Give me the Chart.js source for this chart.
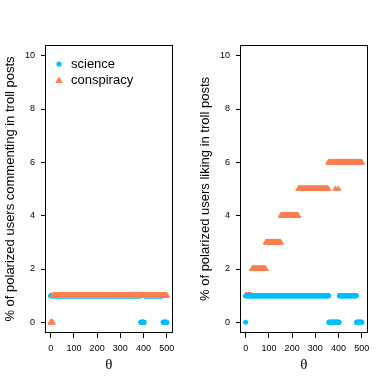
<!DOCTYPE html>
<html>
<head>
<meta charset="utf-8">
<script src="https://cdn.jsdelivr.net/npm/chart.js@4"></script>
<style>
html, body { margin: 0; padding: 0; background: #fff; }
#wrap { display: flex; width: 390px; height: 390px; }
.panel { width: 195px; height: 390px; }
</style>
</head>
<body>
<div id="wrap">
  <div class="panel"><canvas id="commentChart" width="195" height="390"></canvas></div>
  <div class="panel"><canvas id="likeChart" width="195" height="390"></canvas></div>
</div>
<script>
// theta runs from 0 to 500; each series is stored as runs: [first theta, value]
const thetaMax = 500;
const xTicks = [0, 100, 200, 300, 400, 500];
const yTicks = [0, 2, 4, 6, 8, 10];

const commentScience = [[0, 1], [388, 0], [403, 1], [484, 0]];
const commentConspiracy = [[0, 0], [9, 1]];
const likeScience = [[0, 0], [1, 1], [358, 0], [403, 1], [477, 0]];
const likeConspiracy = [[0, 1], [28, 2], [87, 3], [152, 4], [227, 5], [356, 6],
  [386, 5], [387, 6], [399, 5], [400, 6]];

const seriesNames = ['science', 'conspiracy'];
const blue = '#00BFFF';
const orange = '#FF7F50';
const font = 'Liberation Sans, Arial, sans-serif';

function expandRuns(runs) {
  const pts = [];
  for (let i = 0; i < runs.length; i++) {
    const end = i + 1 < runs.length ? runs[i + 1][0] - 1 : thetaMax;
    for (let t = runs[i][0]; t <= end; t++) pts.push({ x: t, y: runs[i][1] });
  }
  return pts;
}

const framePlugin = {
  id: 'frame',
  afterDraw(chart) {
    const a = chart.chartArea;
    const ctx = chart.ctx;
    ctx.save();
    ctx.strokeStyle = '#000';
    ctx.lineWidth = 1;
    ctx.strokeRect(Math.round(a.left) - 0.5, Math.round(a.top) + 0.5,
      Math.round(a.right - a.left) + 1, Math.round(a.bottom - a.top) - 1);
    ctx.restore();
  }
};

const legendPlugin = {
  id: 'rlegend',
  afterDraw(chart) {
    const ctx = chart.ctx;
    ctx.save();
    ctx.fillStyle = blue;
    ctx.beginPath();
    ctx.arc(59, 64, 2.6, 0, Math.PI * 2);
    ctx.fill();
    ctx.fillStyle = orange;
    ctx.beginPath();
    ctx.moveTo(59, 76.5);
    ctx.lineTo(62.8, 83);
    ctx.lineTo(55.2, 83);
    ctx.closePath();
    ctx.fill();
    ctx.fillStyle = '#000';
    ctx.font = '13px ' + font;
    ctx.textBaseline = 'middle';
    ctx.fillText(seriesNames[0], 71, 64);
    ctx.fillText(seriesNames[1], 71, 80);
    ctx.restore();
  }
};

function makeChart(id, sci, con, title, scienceOnTop, withLegend) {
  const ctx = document.getElementById(id).getContext('2d');
  return new Chart(ctx, {
    type: 'scatter',
    data: {
      datasets: [{
        label: seriesNames[0],
        data: expandRuns(sci),
        backgroundColor: blue,
        borderWidth: 0,
        pointRadius: 2.5,
        pointStyle: 'circle',
        order: scienceOnTop ? 0 : 1
      }, {
        label: seriesNames[1],
        data: expandRuns(con),
        backgroundColor: orange,
        borderWidth: 0,
        pointRadius: 3.7,
        pointStyle: 'triangle',
        order: scienceOnTop ? 1 : 0
      }]
    },
    options: {
      responsive: false,
      animation: false,
      events: [],
      layout: { padding: { top: 45, right: 23.5, bottom: 0, left: 0 } },
      plugins: { legend: { display: false }, tooltip: { enabled: false } },
      scales: {
        x: {
          type: 'linear',
          min: -20,
          max: 520,
          afterFit(scale) { scale.height = 57; },
          afterBuildTicks(scale) { scale.ticks = xTicks.map(v => ({ value: v })); },
          border: { display: false },
          grid: { drawOnChartArea: false, drawTicks: true, tickLength: 5, color: '#000' },
          ticks: { color: '#000', font: { family: font, size: 9 }, padding: 5, maxRotation: 0 },
          title: { display: true, text: 'θ', color: '#000',
            font: { family: 'Liberation Serif, serif', size: 15 }, padding: { bottom: 16 } }
        },
        y: {
          type: 'linear',
          min: -0.4,
          max: 10.4,
          afterFit(scale) { scale.width = 46; },
          afterBuildTicks(scale) { scale.ticks = yTicks.map(v => ({ value: v })); },
          border: { display: false },
          grid: { drawOnChartArea: false, drawTicks: true, tickLength: 5, color: '#000' },
          ticks: { color: '#000', font: { family: font, size: 9 }, padding: 6 },
          title: { display: true, text: title, color: '#000',
            font: { family: font, size: 13 }, padding: { top: 3 } }
        }
      }
    },
    plugins: withLegend ? [framePlugin, legendPlugin] : [framePlugin]
  });
}

makeChart('commentChart', commentScience, commentConspiracy,
  '% of polarized users commenting in troll posts', false, true);
makeChart('likeChart', likeScience, likeConspiracy,
  '% of polarized users liking in troll posts', true, false);
</script>
</body>
</html>
